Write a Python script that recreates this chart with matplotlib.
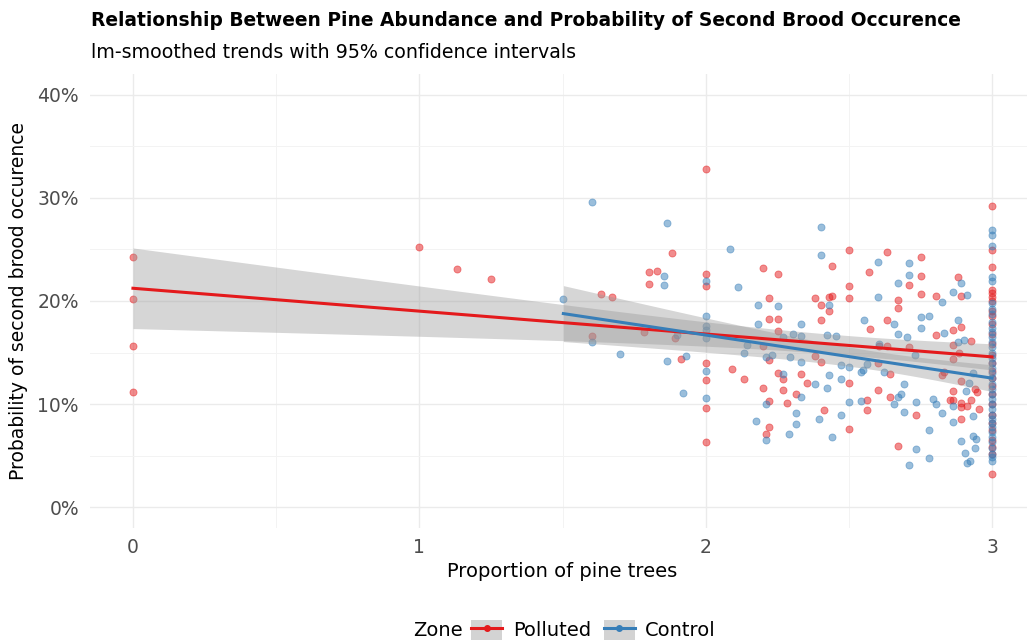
import numpy as np
import matplotlib
matplotlib.use("Agg")
import matplotlib.pyplot as plt
from matplotlib.lines import Line2D
from matplotlib.patches import Rectangle
from matplotlib.ticker import MultipleLocator, FuncFormatter

plt.rcParams['font.family'] = ['DejaVu Sans']

# ---------------- data ----------------
polluted_x = [0, 0, 0, 0, 1.0, 1.13, 1.25,
              1.602, 1.635, 1.673, 1.783, 1.803, 1.831, 1.803, 1.883, 1.893, 1.914,
              2, 2, 2, 2, 2, 2, 2,
              2.091, 2.133, 2.2, 2.252, 2.221, 2.221, 2.252, 2.252, 2.199, 2.221, 2.254, 2.2, 2.222, 2.222, 2.212,
              2.271, 2.271, 2.283, 2.316, 2.333, 2.353, 2.382, 2.403, 2.414, 2.502, 2.502,
              2.441, 2.502, 2.632, 2.572, 2.753, 2.753, 2.711, 2.502, 2.753, 2.804, 2.882, 2.892, 2.382, 2.432,
              2.441, 2.403, 2.432, 2.502, 2.672, 2.672, 2.403, 2.632,
              2.573, 2.804, 2.863, 2.892, 2.925, 2.863, 2.886, 2.863, 2.606, 2.632, 2.711, 2.601, 2.644, 2.60,
              2.644, 2.563, 2.563, 2.733, 2.854, 2.863, 2.892, 2.892, 2.914, 2.925, 2.892, 2.672, 2.941, 2.949,
              2.892, 2.826, 2.832, 2.953, 2.865,
              3, 3, 3, 3, 3, 3, 3, 3, 3, 3, 3, 3, 3, 3, 3, 3, 3, 3, 3, 3, 3, 3, 3, 3, 3, 3]
polluted_y = [0.243, 0.2016, 0.156, 0.112, 0.2527, 0.231, 0.221,
              0.166, 0.2068, 0.204, 0.1696, 0.228, 0.229, 0.2165, 0.247, 0.164, 0.1437,
              0.3275, 0.226, 0.2146, 0.1398, 0.123, 0.0964, 0.063,
              0.134, 0.124, 0.232, 0.226, 0.203, 0.1825, 0.183, 0.171, 0.1566, 0.1427, 0.1307, 0.116, 0.1035, 0.0777, 0.0709,
              0.124, 0.114, 0.101, 0.110, 0.129, 0.121, 0.147, 0.1405, 0.0948, 0.1207, 0.0757,
              0.234, 0.2498, 0.2473, 0.228, 0.243, 0.224, 0.2155, 0.2146, 0.2068, 0.2049, 0.223, 0.2049, 0.203, 0.2042,
              0.2049, 0.196, 0.1906, 0.203, 0.201, 0.1932, 0.182, 0.182,
              0.1725, 0.1673, 0.1718, 0.1745, 0.161, 0.1576, 0.150, 0.1434, 0.1563, 0.1563, 0.1556, 0.1395, 0.129, 0.1133,
              0.107, 0.1045, 0.0948, 0.090, 0.1036, 0.113, 0.1016, 0.097, 0.0984, 0.1036, 0.0857, 0.0592, 0.115, 0.1117,
              0.1226, 0.128, 0.131, 0.095, 0.1045,
              0.292, 0.249, 0.233, 0.2107, 0.2074, 0.204, 0.200, 0.190, 0.185, 0.178, 0.168, 0.158, 0.148,
              0.140, 0.132, 0.125, 0.118, 0.110, 0.100, 0.090, 0.082, 0.075, 0.065, 0.0586, 0.052, 0.0327]

control_x = [1.503, 1.602, 1.602, 1.701, 1.864, 1.855, 1.855, 1.864, 1.933, 1.922, 1.90,
             2, 2, 2, 2, 2, 2, 2,
             2.084, 2.113, 2.183, 2.252, 2.133, 2.145, 2.183, 2.211, 2.233, 2.211, 2.174, 2.212,
             2.403, 2.403, 2.601, 2.711, 2.711, 2.672, 2.863, 2.892, 2.914, 2.825, 2.431, 2.601, 2.753, 2.781,
             2.882, 2.553,
             2.333, 2.304, 2.271, 2.333, 2.425, 2.454, 2.656, 2.672, 2.703, 2.753, 2.832, 2.903, 2.882, 2.606,
             2.731, 2.563, 2.551, 2.542, 2.623, 2.694, 2.673, 2.683, 2.656, 2.733, 2.542, 2.694, 2.793, 2.804,
             2.826, 2.863, 2.863, 2.935, 2.781, 2.733, 2.781, 2.711, 2.892, 2.904, 2.914, 2.923, 2.935, 2.944,
             2.942, 2.92, 2.935, 2.909,
             2.271, 2.333, 2.333, 2.382, 2.432, 2.425, 2.394, 2.474, 2.474, 2.502, 2.502, 2.474, 2.441, 2.316,
             2.316, 2.292, 2.295,
             3, 3, 3, 3, 3, 3, 3, 3, 3, 3, 3, 3, 3, 3, 3, 3, 3, 3, 3, 3, 3, 3, 3, 3, 3, 3, 3, 3, 3, 3, 3, 3,
             3, 3, 3, 3, 3]
control_y = [0.202, 0.296, 0.160, 0.1485, 0.2757, 0.224, 0.2155, 0.1417, 0.147, 0.1113, 0.1667,
             0.219, 0.1854, 0.176, 0.172, 0.164, 0.1317, 0.106,
             0.250, 0.2136, 0.196, 0.195, 0.150, 0.157, 0.178, 0.146, 0.1476, 0.1003, 0.0838, 0.0657,
             0.2715, 0.245, 0.238, 0.237, 0.225, 0.2175, 0.2087, 0.2172, 0.2058, 0.1987, 0.1958, 0.204, 0.1848, 0.1857,
             0.182, 0.1815,
             0.1774, 0.168, 0.1647, 0.166, 0.1673, 0.1663, 0.178, 0.168, 0.1654, 0.1735, 0.1692, 0.162, 0.160, 0.158,
             0.148, 0.1385, 0.133, 0.131, 0.131, 0.120, 0.107, 0.110, 0.100, 0.1017, 0.103, 0.092, 0.105, 0.1003,
             0.0916, 0.0984, 0.0825, 0.089, 0.0754, 0.0566, 0.0476, 0.0414, 0.064, 0.0531, 0.043, 0.045, 0.0696, 0.066,
             0.0576, 0.1207, 0.130, 0.1126,
             0.1288, 0.107, 0.1405, 0.1194, 0.128, 0.116, 0.0857, 0.138, 0.124, 0.1356, 0.102, 0.0893, 0.068, 0.0913,
             0.0806, 0.0715, 0.146,
             0.269, 0.264, 0.253, 0.2236, 0.2197, 0.198, 0.192, 0.187, 0.180, 0.174, 0.170, 0.165, 0.160, 0.155,
             0.150, 0.145, 0.140, 0.135, 0.130, 0.125, 0.120, 0.115, 0.110, 0.105, 0.100, 0.095, 0.090, 0.086,
             0.082, 0.078, 0.073, 0.068, 0.063, 0.058, 0.052, 0.049, 0.045]

zones = ["Polluted", "Control"]
colors = {"Polluted": "#E41A1C", "Control": "#377EB8"}
y_ticks = [0.0, 0.1, 0.2, 0.3, 0.4]
x_ticks = [0, 1, 2, 3]
T_CRIT = 1.97

# ---------------- figure ----------------
W, H = 1027, 641
fig = plt.figure(figsize=(W / 100, H / 100), dpi=100)
L, R, T, B = 90, 1035, 74, 528
ax = fig.add_axes([L / W, 1 - B / H, (R - L) / W, (B - T) / H])
for s in ax.spines.values():
    s.set_visible(False)

ax.set_xlim(-0.15, 3.15)
ax.set_ylim(-0.02, 0.42)
ax.xaxis.set_minor_locator(MultipleLocator(0.5))
ax.yaxis.set_minor_locator(MultipleLocator(0.05))
ax.set_xticks(x_ticks)
ax.set_yticks(y_ticks)
ax.yaxis.set_major_formatter(FuncFormatter(lambda v, p: f"{v*100:.0f}%"))
ax.grid(which='major', color='#EBEBEB', linewidth=1.0)
ax.grid(which='minor', color='#F3F3F3', linewidth=0.7)
ax.set_axisbelow(True)
ax.tick_params(which='both', length=0, labelsize=13.5, labelcolor='#4D4D4D')
ax.tick_params(axis='x', pad=7)
ax.tick_params(axis='y', pad=8)

data = {"Polluted": (np.array(polluted_x), np.array(polluted_y)),
        "Control": (np.array(control_x), np.array(control_y))}

for z in zones:
    xs, ys = data[z]
    ax.scatter(xs, ys, s=26, color=colors[z], alpha=0.5, edgecolors=colors[z],
               linewidths=0.6, zorder=2)

for z in zones:
    xs, ys = data[z]
    n = len(xs)
    b1, b0 = np.polyfit(xs, ys, 1)
    resid = ys - (b0 + b1 * xs)
    s2 = np.sum(resid ** 2) / (n - 2)
    xm = xs.mean()
    sxx = np.sum((xs - xm) ** 2)
    xg = np.linspace(xs.min(), xs.max(), 80)
    yg = b0 + b1 * xg
    se = np.sqrt(s2 * (1 / n + (xg - xm) ** 2 / sxx))
    ax.fill_between(xg, yg - T_CRIT * se, yg + T_CRIT * se, color='#999999',
                    alpha=0.4, linewidth=0, zorder=3)
    ax.plot(xg, yg, color=colors[z], linewidth=2.2, zorder=4)

ax.set_xlabel("Proportion of pine trees", fontsize=14, color='black', labelpad=4)
ax.set_ylabel("Probability of second brood occurence", fontsize=13.5, color='black', labelpad=7)

fig.text(91 / W, 1 - 21 / H, "Relationship Between Pine Abundance and Probability of Second Brood Occurence",
         fontsize=13.4, fontweight='bold', ha='left', va='center')
fig.text(91 / W, 1 - 53 / H, "lm-smoothed trends with 95% confidence intervals",
         fontsize=13.65, ha='left', va='center')

# legend
handles = []
for z in zones:
    bg = Rectangle((0, 0), 1, 1, facecolor='#D3D3D3', edgecolor='none')
    ln = Line2D([], [], color=colors[z], linewidth=2.2, marker='o', markersize=4,
                markerfacecolor=colors[z], markeredgecolor=colors[z])
    handles.append((bg, ln))
fig.text(413 / W, 1 - 631 / H, "Zone", fontsize=14, ha='left', va='center')
fig.legend(handles, zones, loc='center left', bbox_to_anchor=(471 / W, 1 - 630 / H),
           ncol=2, frameon=False, fontsize=14, handlelength=1.6, handleheight=1.25,
           handletextpad=0.55, columnspacing=0.65, borderpad=0, borderaxespad=0)

fig.savefig("out.png", dpi=100)
